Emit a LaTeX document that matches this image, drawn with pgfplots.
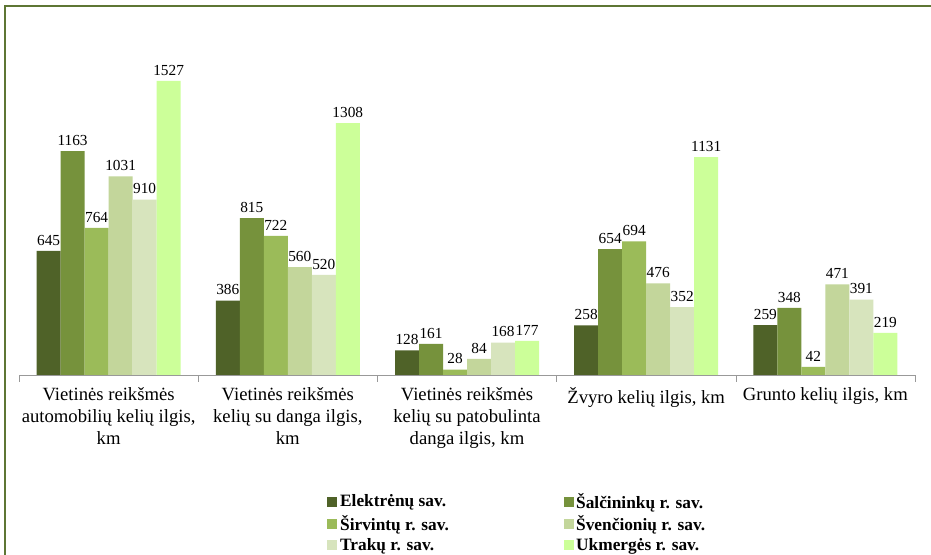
\documentclass[border=0pt]{standalone}
\usepackage{pgfplots}
\pgfplotsset{compat=1.18}
\usepackage{fontspec}
\setmainfont{Liberation Serif}

\definecolor{elek}{HTML}{4F6228}
\definecolor{salc}{HTML}{76923C}
\definecolor{sirv}{HTML}{9BBB59}
\definecolor{sven}{HTML}{C3D69B}
\definecolor{trak}{HTML}{D7E4BD}
\definecolor{ukme}{HTML}{CCFF99}
\definecolor{frame}{HTML}{5E7634}

\begin{document}
\begin{tikzpicture}
\useasboundingbox (0,0) rectangle (698.25pt,416.25pt);
\clip (0,0) rectangle (698.25pt,416.25pt);
\fill[white] (0,0) rectangle (698.25pt,416.25pt);
\draw[frame, line width=1.5pt] (3.75pt,-2pt) -- (3.75pt,411.75pt) -- (700pt,411.75pt);

\begin{axis}[
    at={(14.25pt,135pt)}, anchor=south west,
    scale only axis,
    width=672pt, height=260pt,
    ybar=0pt, bar width=18pt,
    ymin=0, ymax=1800,
    xmin=-0.5, xmax=4.5,
    axis x line*=bottom, axis y line=none,
    x axis line style={-, draw=gray!80},
    xtick={0,1,2,3,4},
    xticklabels={
        {Vietinės reikšmės\\automobilių kelių ilgis,\\km},
        {Vietinės reikšmės\\kelių su danga ilgis,\\km},
        {Vietinės reikšmės\\kelių su patobulinta\\danga ilgis, km},
        {Žvyro kelių ilgis, km},
        {Grunto kelių ilgis, km}},
    xticklabel style={align=center, anchor=north,
        font=\fontsize{14}{16.5}\selectfont, yshift=-6pt},
    major tick length=0pt,
    extra x ticks={-0.5,0.5,1.5,2.5,3.5,4.5},
    extra x tick labels={},
    extra x tick style={major tick length=5pt, tick align=outside,
        tick style={draw=gray!80}},
    ytick=\empty,
    nodes near coords,
    /pgf/number format/assume math mode=true,
    /pgf/number format/1000 sep={},
    every node near coord/.append style={font=\fontsize{11.5}{14}\selectfont,
        text=black, inner sep=2pt, yshift=2pt},
    legend columns=2,
    legend cell align=left,
    legend image code/.code={\fill[#1] (0pt,-3.75pt) rectangle (7.5pt,3.75pt);},
    legend style={at={(axis description cs:0.344,-0.333)}, anchor=north west,
        draw=none, fill=none, inner sep=0pt,
        font=\bfseries\fontsize{13}{15}\selectfont,
        row sep=0pt,
        /tikz/every even column/.append style={column sep=84pt}},
]
\addplot[fill=elek, draw=none] coordinates {(0,645) (1,386) (2,128) (3,258) (4,259)};
\addplot[fill=salc, draw=none] coordinates {(0,1163) (1,815) (2,161) (3,654) (4,348)};
\addplot[fill=sirv, draw=none] coordinates {(0,764) (1,722) (2,28) (3,694) (4,42)};
\addplot[fill=sven, draw=none] coordinates {(0,1031) (1,560) (2,84) (3,476) (4,471)};
\addplot[fill=trak, draw=none] coordinates {(0,910) (1,520) (2,168) (3,352) (4,391)};
\addplot[fill=ukme, draw=none] coordinates {(0,1527) (1,1308) (2,177) (3,1131) (4,219)};
\legend{Elektrėnų sav., Šalčininkų r. sav., Širvintų r. sav., Švenčionių r. sav., Trakų r. sav., Ukmergės r. sav.}
\end{axis}
\end{tikzpicture}
\end{document}
